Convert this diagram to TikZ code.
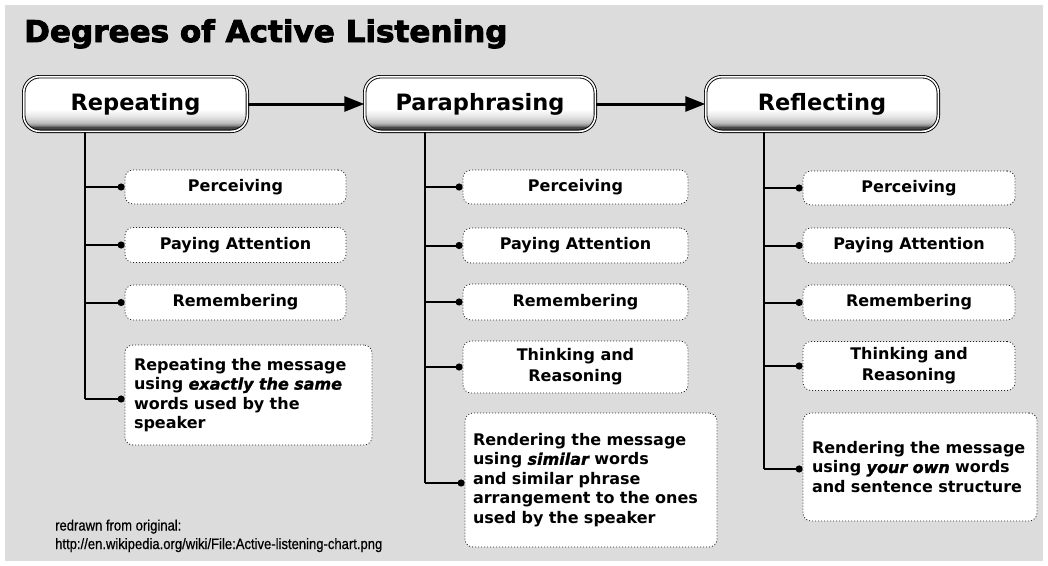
\documentclass[tikz,border=0pt]{standalone}
\usepackage{fontspec}
\setmainfont{DejaVu Sans}
\newfontfamily\titlefont{DejaVu Sans Bold}[FakeBold=3,FakeStretch=1.035]
\newfontface\bifont{DejaVu Sans Bold Oblique}[FakeBold=1.5]
\newfontfamily\footfont{Liberation Sans}[FakeStretch=0.87,FakeBold=0.6]
\newcommand{\strongit}[1]{{\bifont #1}}
\usetikzlibrary{arrows.meta,calc}
\definecolor{bggray}{HTML}{DCDCDC}
\definecolor{hdA}{HTML}{474747}
\definecolor{hdB}{HTML}{8C8C8C}
\definecolor{hdC}{HTML}{BEBEBE}
\definecolor{hdD}{HTML}{E2E2E2}
\pgfdeclareverticalshading{hdrshade}{100bp}{color(0bp)=(hdA); color(25bp)=(hdA); color(29bp)=(hdA); color(30.5bp)=(hdB); color(33bp)=(hdC); color(38bp)=(hdD); color(45bp)=(white); color(100bp)=(white)}
\tikzset{
  hdr/.style={draw=black, line width=0.9pt, double=white, double distance=1.6pt,
    rounded corners=16pt, shading=hdrshade, minimum height=54.6pt, inner sep=0pt,
    font=\fontsize{22.5}{26}\selectfont\bfseries},
  flowarrow/.style={line width=3pt, -{Triangle[length=20pt,width=15pt]}},
  trunk/.style={line width=2pt},
  branch/.style={line width=2pt, -{Circle[length=7pt]}},
  sub/.style={draw=black!85, dash pattern=on 1pt off 2pt, line width=0.8pt, fill=white,
    rounded corners=8pt, inner sep=0pt, align=center,
    font=\fontsize{16}{19.6}\selectfont\bfseries},
  thinkbox/.style={sub, font=\fontsize{16}{21}\selectfont\bfseries},
  bigbox/.style={sub, align=left, inner xsep=9pt, inner ysep=0pt},
  foot/.style={anchor=base west, inner sep=0pt, font=\footfont\fontsize{15}{18}\selectfont},
}
\begin{document}
\begin{tikzpicture}[x=1pt,y=-1pt]
\useasboundingbox (0,0) rectangle (1048,565);
\fill[white] (0,0) rectangle (1048,565);
\fill[bggray] (5,5) rectangle (1043,561);

\node[anchor=base west, inner sep=0pt, font=\titlefont\fontsize{30}{34}\selectfont] (title) at (24,42) {Degrees of Active Listening};

% headers
\node[hdr, minimum width=223.6pt] (rep) at (135.5,104) {Repeating};
\node[hdr, minimum width=230.6pt] (par) at (480,104) {Paraphrasing};
\node[hdr, minimum width=232.6pt] (ref) at (822,104) {Reflecting};

\draw[flowarrow] (rep.east) -- (par.west);
\draw[flowarrow] (par.east) -- (ref.west);

% column 1
\coordinate (t1) at (85,0);
\node[sub, minimum width=221pt, minimum height=34pt] (a1) at (235.5,187) {Perceiving};
\node[sub, minimum width=221pt, minimum height=35pt] (a2) at (235.5,245) {Paying Attention};
\node[sub, minimum width=221pt, minimum height=35pt] (a3) at (235.5,302.5) {Remembering};
\node[bigbox, text width=229pt, minimum height=100pt] (a4) at (248.5,395)
  {Repeating the message\\using \strongit{exactly the same}\\words used by the\\speaker};
\draw[trunk] (rep.south -| t1) -- ([yshift=-4pt]a4.west -| t1);
\draw[branch] (a1.west -| t1) -- (a1.west);
\draw[branch] (a2.west -| t1) -- (a2.west);
\draw[branch] (a3.west -| t1) -- (a3.west);
\draw[branch] ([yshift=-4pt]a4.west -| t1) -- ([yshift=-4pt]a4.west);

% column 2
\coordinate (t2) at (425,0);
\node[sub, minimum width=225pt, minimum height=34pt] (b1) at (575.5,187) {Perceiving};
\node[sub, minimum width=225pt, minimum height=35pt] (b2) at (575.5,245.5) {Paying Attention};
\node[sub, minimum width=225pt, minimum height=36pt] (b3) at (575.5,302) {Remembering};
\node[thinkbox, minimum width=225pt, minimum height=52pt] (b4) at (575.5,367) {Thinking and\\Reasoning};
\node[bigbox, inner xsep=8pt, text width=236pt, minimum height=134pt] (b5) at (591,480)
  {Rendering the message\\using \strongit{similar} words\\and similar phrase\\arrangement to the ones\\used by the speaker};
\draw[trunk] (par.south -| t2) -- ([yshift=-3pt]b5.west -| t2);
\draw[branch] (b1.west -| t2) -- (b1.west);
\draw[branch] (b2.west -| t2) -- (b2.west);
\draw[branch] (b3.west -| t2) -- (b3.west);
\draw[branch] (b4.west -| t2) -- (b4.west);
\draw[branch] ([yshift=-3pt]b5.west -| t2) -- ([yshift=-3pt]b5.west);

% column 3
\coordinate (t3) at (764,0);
\node[sub, minimum width=212pt, minimum height=34pt] (c1) at (909,188) {Perceiving};
\node[sub, minimum width=212pt, minimum height=35pt] (c2) at (909,245.5) {Paying Attention};
\node[sub, minimum width=212pt, minimum height=35pt] (c3) at (909,302.5) {Remembering};
\node[thinkbox, minimum width=212pt, minimum height=49pt] (c4) at (909,366) {Thinking and\\Reasoning};
\node[bigbox, text width=216pt, minimum height=108pt] (c5) at (920,467)
  {Rendering the message\\using \strongit{your own} words\\and sentence structure};
\draw[trunk] (ref.south -| t3) -- ([yshift=-2pt]c5.west -| t3);
\draw[branch] (c1.west -| t3) -- (c1.west);
\draw[branch] (c2.west -| t3) -- (c2.west);
\draw[branch] (c3.west -| t3) -- (c3.west);
\draw[branch] (c4.west -| t3) -- (c4.west);
\draw[branch] ([yshift=-2pt]c5.west -| t3) -- ([yshift=-2pt]c5.west);

% footer
\node[foot] (f1) at (55,530.5) {redrawn from original:};
\node[foot] (f2) at (55,549) {http://en.wikipedia.org/wiki/File:Active-listening-chart.png};
\end{tikzpicture}
\end{document}
